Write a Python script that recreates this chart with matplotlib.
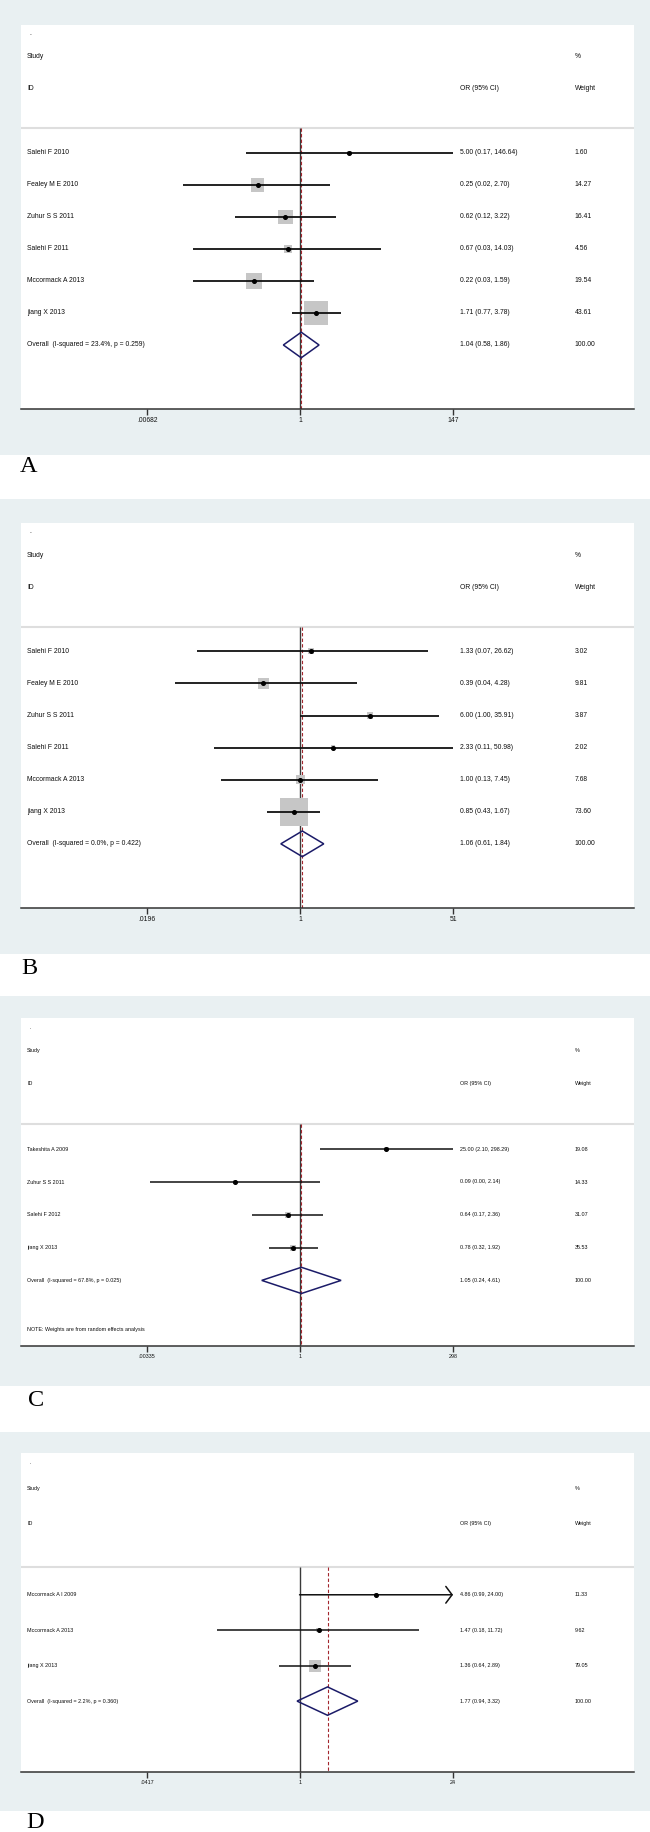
import numpy as np
import matplotlib
matplotlib.use("Agg")
import matplotlib.pyplot as plt
from matplotlib import font_manager
from matplotlib.patches import Rectangle

# ---------------- data ----------------
studies_a = ["Salehi F 2010", "Fealey M E 2010", "Zuhur S S 2011", "Salehi F 2011",
             "Mccormack A 2013", "jiang X 2013"]
or_a = [5.00, 0.25, 0.62, 0.67, 0.22, 1.71]
lo_a = [0.17, 0.022, 0.12, 0.03, 0.03, 0.77]
hi_a = [146.64, 2.70, 3.22, 14.03, 1.59, 3.78]
wt_a = [1.60, 14.27, 16.41, 4.56, 19.54, 43.61]
overall_a = [1.04, 0.58, 1.86]
het_a = "Overall  (I-squared = 23.4%, p = 0.259)"
ticks_a = [0.00682, 1, 147]
ticklabels_a = [".00682", "1", "147"]

studies_b = ["Salehi F 2010", "Fealey M E 2010", "Zuhur S S 2011", "Salehi F 2011",
             "Mccormack A 2013", "jiang X 2013"]
or_b = [1.33, 0.39, 6.00, 2.33, 1.00, 0.85]
lo_b = [0.07, 0.04, 1.00, 0.11, 0.13, 0.43]
hi_b = [26.62, 4.28, 35.91, 50.98, 7.45, 1.67]
wt_b = [3.02, 9.81, 3.87, 2.02, 7.68, 73.60]
overall_b = [1.06, 0.61, 1.84]
het_b = "Overall  (I-squared = 0.0%, p = 0.422)"
ticks_b = [0.0196, 1, 51]
ticklabels_b = [".0196", "1", "51"]

studies_c = ["Takeshita A 2009", "Zuhur S S 2011", "Salehi F 2012", "jiang X 2013"]
or_c = [25.00, 0.09, 0.64, 0.78]
lo_c = [2.10, 0.0038, 0.17, 0.32]
hi_c = [298.29, 2.14, 2.36, 1.92]
wt_c = [19.08, 14.33, 31.07, 35.53]
overall_c = [1.05, 0.24, 4.61]
het_c = "Overall  (I-squared = 67.8%, p = 0.025)"
note_c = "NOTE: Weights are from random effects analysis"
ticks_c = [0.00335, 1, 298]
ticklabels_c = [".00335", "1", "298"]

studies_d = ["Mccormack A I 2009", "Mccormack A 2013", "jiang X 2013"]
or_d = [4.86, 1.47, 1.36]
lo_d = [0.99, 0.18, 0.64]
hi_d = [24.00, 11.72, 2.89]
wt_d = [11.33, 9.62, 79.05]
overall_d = [1.77, 0.94, 3.32]
het_d = "Overall  (I-squared = 2.2%, p = 0.360)"
ticks_d = [0.0417, 1, 24]
ticklabels_d = [".0417", "1", "24"]
arrow_d = [True, False, False]

# ---------------- fonts ----------------
try:
    font_manager.findfont("Liberation Sans Narrow", fallback_to_default=False)
    sans = ["Liberation Sans Narrow", "Liberation Sans", "DejaVu Sans"]
    big_fs, small_fs = 5.9, 4.6
except Exception:
    sans = ["Liberation Sans", "DejaVu Sans"]
    big_fs, small_fs = 4.9, 3.9
serif = ["Liberation Serif", "DejaVu Serif"]

W, H = 650, 1832
BG = "#e9f0f2"
fig = plt.figure(figsize=(W / 100, H / 100), dpi=100)
fig.patch.set_facecolor("white")

panels = [
    dict(studies=studies_a, est=or_a, lo=lo_a, hi=hi_a, wt=wt_a, overall=overall_a, het=het_a,
         ticks=ticks_a, ticklabels=ticklabels_a, grey=(0, 455), box=(25, 409),
         letter="A", letter_xy=(20, 467), fs=big_fs, box_max=24, lw=1.3),
    dict(studies=studies_b, est=or_b, lo=lo_b, hi=hi_b, wt=wt_b, overall=overall_b, het=het_b,
         ticks=ticks_b, ticklabels=ticklabels_b, grey=(499, 954), box=(523, 908),
         letter="B", letter_xy=(21, 968), fs=big_fs, box_max=28, lw=1.3),
    dict(studies=studies_c, est=or_c, lo=lo_c, hi=hi_c, wt=wt_c, overall=overall_c, het=het_c,
         ticks=ticks_c, ticklabels=ticklabels_c, grey=(996, 1386), box=(1018, 1346),
         letter="C", letter_xy=(28, 1400), fs=small_fs, box_max=6, lw=1.1, note=note_c),
    dict(studies=studies_d, est=or_d, lo=lo_d, hi=hi_d, wt=wt_d, overall=overall_d, het=het_d,
         ticks=ticks_d, ticklabels=ticklabels_d, grey=(1432, 1811), box=(1453, 1772),
         letter="D", letter_xy=(26, 1822), fs=small_fs, box_max=12, lw=1.1, arrows=arrow_d),
]

X0, X1 = 21, 634
COL_LABEL, COL_OR, COL_WT = 0.010, 0.716, 0.903

for p in panels:
    g0, g1 = p["grey"]
    fig.patches.append(Rectangle((0, 1 - g1 / H), 1, (g1 - g0) / H, transform=fig.transFigure,
                                 facecolor=BG, edgecolor="none", zorder=-10))
    t0, t1 = p["box"]
    ax = fig.add_axes([X0 / W, 1 - t1 / H, (X1 - X0) / W, (t1 - t0) / H])
    ax.set_zorder(5)
    ax.set_facecolor("white")
    n = len(p["studies"])
    ax.set_ylim(n + 2, -4)
    T = np.log10(p["ticks"][-1])
    ax.set_xscale("log")
    ax.set_xlim(10 ** (-1.824 * T), 10 ** (2.183 * T))
    for s in ["top", "left", "right"]:
        ax.spines[s].set_visible(False)
    ax.spines["bottom"].set_color("#333333")
    ax.spines["bottom"].set_linewidth(1.1)
    ax.set_yticks([])
    ax.set_xticks(p["ticks"])
    ax.set_xticklabels(p["ticklabels"])
    ax.xaxis.set_minor_locator(matplotlib.ticker.NullLocator())
    ax.tick_params(axis="x", direction="out", length=4, width=1, color="#333333",
                   pad=3.0 if p["fs"] > 5 else 2.0, labelsize=p["fs"], labelcolor="#111111")
    for lab in ax.get_xticklabels():
        lab.set_fontfamily(sans)

    trans = ax.get_yaxis_transform()
    txt = dict(transform=trans, va="center", ha="left", fontsize=p["fs"], family=sans, color="#0d0d0d")
    sep = -0.77
    ax.text(COL_LABEL + 0.004, -3.72, ".", **txt)
    ax.text(COL_LABEL, -3, "Study", **txt)
    ax.text(COL_LABEL, -2, "ID", **txt)
    ax.text(COL_OR, -2, "OR (95% CI)", **txt)
    ax.text(COL_WT, -3, "%", **txt)
    ax.text(COL_WT, -2, "Weight", **txt)
    ax.axhline(sep, color="#dedede", lw=1.5)

    # reference line at 1 and overall estimate
    ax.vlines(1, sep, n + 2, color="#3a3a3a", lw=1.0, zorder=2)
    ax.vlines(p["overall"][0], sep, n + 2, color="#a3262e", lw=0.8,
              linestyles=(0, (3, 2)), zorder=2)

    wmax = max(p["wt"])
    arrows = p.get("arrows", [False] * n)
    for i in range(n):
        side = p["box_max"] * np.sqrt(p["wt"][i] / wmax) * 0.72
        ax.scatter([p["est"][i]], [i], marker="s", s=side ** 2, color="#c6c6c6",
                   edgecolors="none", zorder=3)
        if arrows[i]:
            ax.annotate("", xy=(p["hi"][i], i), xytext=(p["lo"][i], i),
                        arrowprops=dict(arrowstyle="->,head_length=0.45,head_width=0.6",
                                        lw=p["lw"], color="#111111", shrinkA=0, shrinkB=0,
                                        mutation_scale=10), zorder=4)
        else:
            ax.hlines(i, p["lo"][i], p["hi"][i], color="#111111", lw=p["lw"], zorder=4)
        ax.plot(p["est"][i], i, "o", color="black", ms=2.6, zorder=5)
        ax.text(COL_LABEL, i, p["studies"][i], **txt)
        ax.text(COL_OR, i, f"{p['est'][i]:.2f} ({p['lo'][i]:.2f}, {p['hi'][i]:.2f})", **txt)
        ax.text(COL_WT, i, f"{p['wt'][i]:.2f}", **txt)

    oe, ol, oh = p["overall"]
    ax.fill([ol, oe, oh, oe, ol], [n, n - 0.4, n, n + 0.4, n], facecolor="none",
            edgecolor="#1b1b68", lw=1.1, zorder=6)
    ax.text(COL_LABEL, n, p["het"], **txt)
    ax.text(COL_OR, n, f"{oe:.2f} ({ol:.2f}, {oh:.2f})", **txt)
    ax.text(COL_WT, n, "100.00", **txt)
    if "note" in p:
        ax.text(COL_LABEL, n + 1.5, p["note"], **txt)

    lx, ly = p["letter_xy"]
    fig.text(lx / W, 1 - ly / H, p["letter"], ha="left", va="center", fontsize=17.5,
             family=serif, color="black")

fig.savefig("out.png", dpi=100, facecolor="white")
